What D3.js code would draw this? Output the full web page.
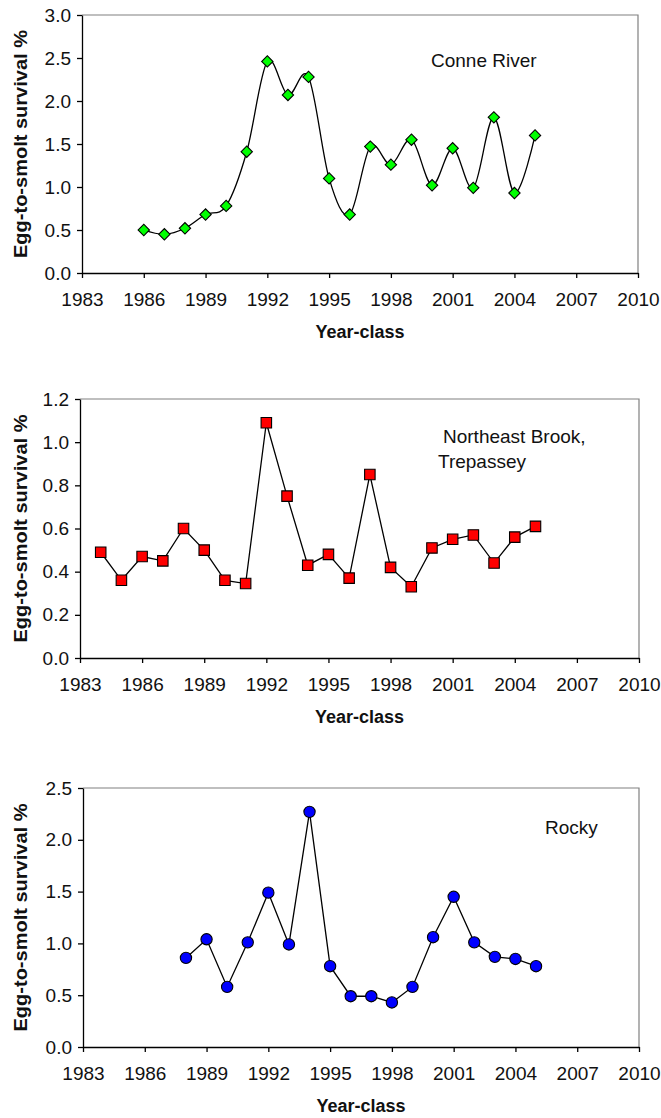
<!DOCTYPE html>
<html lang="en">
<head>
<meta charset="UTF-8">
<title>Egg-to-smolt survival by year-class</title>
<script src="https://d3js.org/d3.v7.min.js"></script>
<style>
  body { margin: 0; background: #fff; }
  svg { display: block; font-family: "Liberation Sans", Arial, sans-serif; }
  .tick text { font-size: 19px; fill: #111; }
  .tick line, .domain { stroke: #000; }
  .axis-title { font-size: 18px; font-weight: bold; fill: #111; }
  .site { font-size: 19px; fill: #111; }
</style>
</head>
<body>
<svg width="661" height="1118"></svg>
<script>
const xTicks = [1983, 1986, 1989, 1992, 1995, 1998, 2001, 2004, 2007, 2010];

const conneYears = [1986, 1987, 1988, 1989, 1990, 1991, 1992, 1993, 1994, 1995,
                    1996, 1997, 1998, 1999, 2000, 2001, 2002, 2003, 2004, 2005];
const conneSurvival = [0.50, 0.45, 0.52, 0.68, 0.78, 1.41, 2.46, 2.07, 2.28, 1.10,
                       0.68, 1.47, 1.26, 1.55, 1.02, 1.45, 0.99, 1.81, 0.93, 1.60];
const conneTicks = [0, 0.5, 1.0, 1.5, 2.0, 2.5, 3.0];

const trepasseyYears = [1984, 1985, 1986, 1987, 1988, 1989, 1990, 1991, 1992, 1993, 1994,
                        1995, 1996, 1997, 1998, 1999, 2000, 2001, 2002, 2003, 2004, 2005];
const trepasseySurvival = [0.49, 0.36, 0.47, 0.45, 0.60, 0.50, 0.36, 0.345, 1.09, 0.75, 0.43,
                           0.48, 0.37, 0.85, 0.42, 0.33, 0.51, 0.55, 0.57, 0.44, 0.56, 0.61];
const trepasseyTicks = [0, 0.2, 0.4, 0.6, 0.8, 1.0, 1.2];

const rockyYears = [1988, 1989, 1990, 1991, 1992, 1993, 1994, 1995, 1996,
                    1997, 1998, 1999, 2000, 2001, 2002, 2003, 2004, 2005];
const rockySurvival = [0.86, 1.04, 0.58, 1.01, 1.49, 0.99, 2.27, 0.78, 0.49,
                       0.49, 0.43, 0.58, 1.06, 1.45, 1.01, 0.87, 0.85, 0.78];
const rockyTicks = [0, 0.5, 1.0, 1.5, 2.0, 2.5];

const svg = d3.select("svg");

// one entry per panel: data plus where it sits on the page
const panels = [
  {years: conneYears, values: conneSurvival, yTicks: conneTicks,
   marker: "diamond", color: "#00ff00", smooth: true,
   left: 82, right: 638, top: 15, bottom: 273,
   site: [{text: "Conne River", x: 431, y: 67}]},
  {years: trepasseyYears, values: trepasseySurvival, yTicks: trepasseyTicks,
   marker: "square", color: "#ff0000", smooth: false,
   left: 80, right: 639, top: 399, bottom: 658,
   site: [{text: "Northeast Brook,", x: 443, y: 443},
          {text: "Trepassey", x: 438, y: 468}]},
  {years: rockyYears, values: rockySurvival, yTicks: rockyTicks,
   marker: "circle", color: "#0000ff", smooth: false,
   left: 83, right: 639, top: 788, bottom: 1047,
   site: [{text: "Rocky", x: 545, y: 834}]}
];

panels.forEach(p => {
  const x = d3.scaleLinear()
              .domain([xTicks[0], xTicks[xTicks.length - 1]])
              .range([p.left, p.right]);

  const y = d3.scaleLinear()
              .domain([0, p.yTicks[p.yTicks.length - 1]])
              .range([p.bottom, p.top]);

  const g = svg.append("g");

  // grey top and right frame of the plot area
  g.append("path")
    .attr("d", `M${p.left},${p.top}H${p.right}V${p.bottom}`)
    .attr("fill", "none")
    .attr("stroke", "#808080")
    .attr("stroke-width", 1.2);

  // X Axis
  g.append("g")
    .attr("transform", `translate(0,${p.bottom})`)
    .call(d3.axisBottom(x).tickValues(xTicks).tickFormat(d3.format("d"))
            .tickSize(5).tickSizeOuter(0).tickPadding(15))
    .call(a => a.selectAll(".domain, .tick line").attr("stroke-width", 1.3));

  // Y Axis
  g.append("g")
    .attr("transform", `translate(${p.left},0)`)
    .call(d3.axisLeft(y).tickValues(p.yTicks).tickFormat(d3.format(".1f"))
            .tickSize(5).tickSizeOuter(0).tickPadding(6))
    .call(a => a.selectAll(".domain, .tick line").attr("stroke-width", 1.3));

  const pts = p.years.map((yr, i) => [yr, p.values[i]]);

  const line = d3.line()
                 .x(d => x(d[0]))
                 .y(d => y(d[1]))
                 .curve(p.smooth ? d3.curveCardinal.tension(0) : d3.curveLinear);

  g.append("path")
    .datum(pts)
    .attr("fill", "none")
    .attr("stroke", "#000")
    .attr("stroke-width", 1.3)
    .attr("d", line);

  let sym, rot = 0;
  if (p.marker === "diamond") { sym = d3.symbol(d3.symbolSquare, 64); rot = 45; }
  else if (p.marker === "square") { sym = d3.symbol(d3.symbolSquare, 110); }
  else { sym = d3.symbol(d3.symbolCircle, 100); }

  g.selectAll(".mark")
    .data(pts)
    .join("path")
    .attr("class", "mark")
    .attr("transform", d => `translate(${x(d[0])},${y(d[1])}) rotate(${rot})`)
    .attr("d", sym)
    .attr("fill", p.color)
    .attr("stroke", "#000")
    .attr("stroke-width", 1.1);

  // site name
  p.site.forEach(s => {
    g.append("text")
      .attr("class", "site")
      .attr("x", s.x)
      .attr("y", s.y)
      .text(s.text);
  });

  // X Label
  g.append("text")
    .attr("class", "axis-title")
    .attr("x", (p.left + p.right) / 2)
    .attr("y", p.bottom + 64.5)
    .attr("text-anchor", "middle")
    .text("Year-class");

  // Y Label
  g.append("text")
    .attr("class", "axis-title")
    .attr("transform", `translate(27,${(p.top + p.bottom) / 2}) rotate(-90)`)
    .attr("text-anchor", "middle")
    .attr("font-size", "17px")
    .attr("textLength", 228)
    .attr("lengthAdjust", "spacingAndGlyphs")
    .text("Egg-to-smolt survival %");
});
</script>
</body>
</html>
